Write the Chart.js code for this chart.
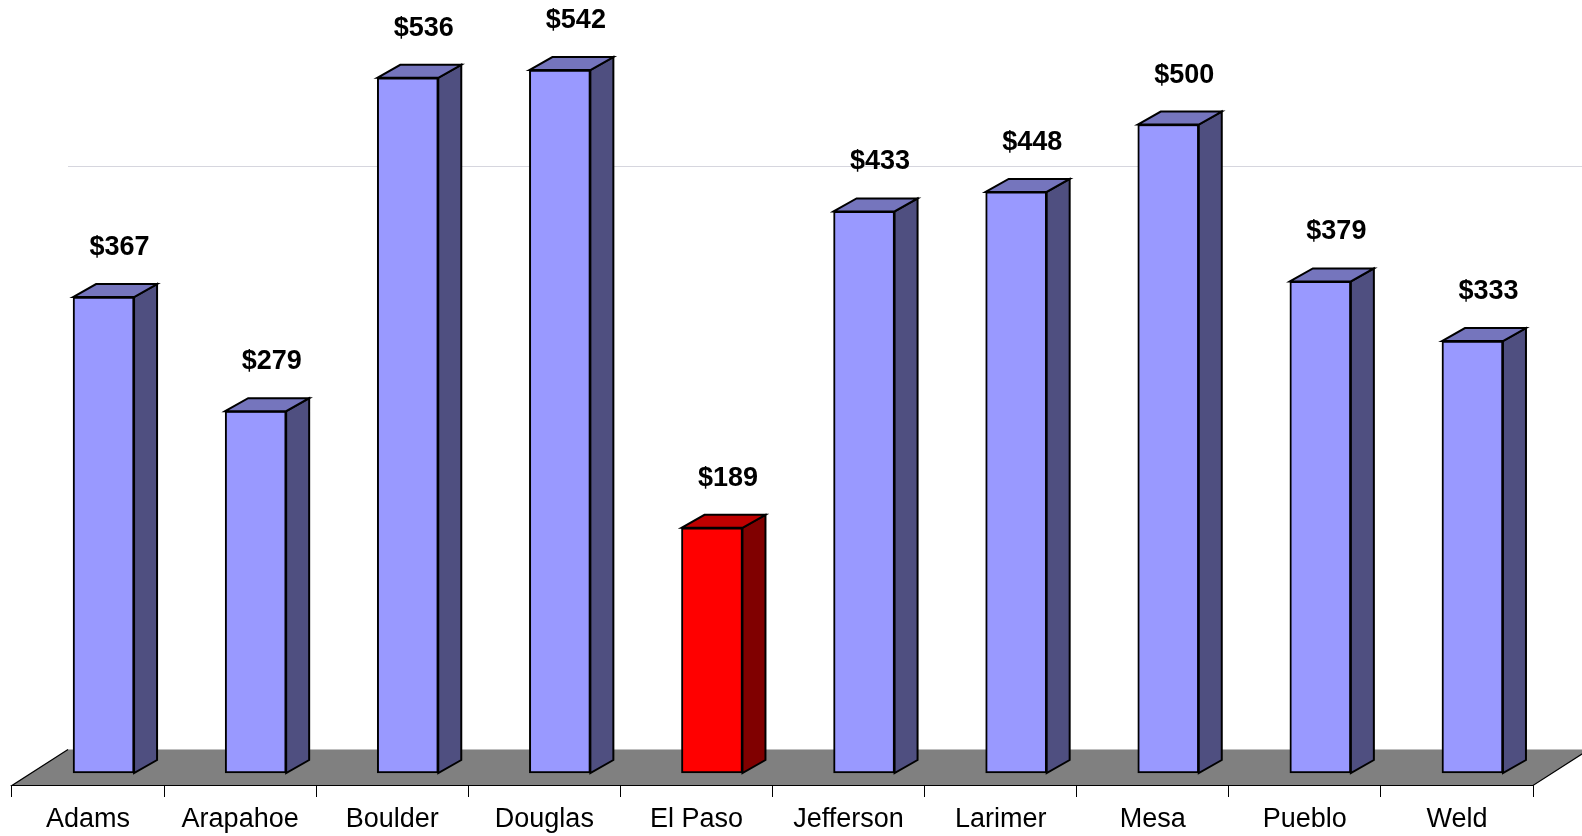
<!DOCTYPE html>
<html>
<head>
<meta charset="utf-8">
<script src="https://cdn.jsdelivr.net/npm/chart.js@4/dist/chart.umd.min.js"></script>
<style>
  html, body { margin: 0; padding: 0; background: #ffffff; }
  #wrap { width: 1582px; height: 836px; position: relative; }
</style>
</head>
<body>
<div id="wrap"><canvas id="c"></canvas></div>
<script>
// ---- data ----
const categories = ['Adams', 'Arapahoe', 'Boulder', 'Douglas', 'El Paso', 'Jefferson', 'Larimer', 'Mesa', 'Pueblo', 'Weld'];
const values = [367, 279, 536, 542, 189, 433, 448, 500, 379, 333];
const highlighted = ['El Paso'];
const gridValues = [450];

// ---- styling ----
const FONT = "'Liberation Sans', Arial, Helvetica, sans-serif";
const BLUE = { front: '#9999FF', top: '#7575BD', side: '#4F4F80' };
const RED = { front: '#FF0000', top: '#C00000', side: '#800000' };
const palette = categories.map(c => highlighted.includes(c) ? RED : BLUE);
const DEPTH_X = 23, DEPTH_Y = 13;       // bar depth projection
const FLOOR_X = 56, FLOOR_Y = 36;       // floor depth projection
const BAR_FRONT_Y = 12;                  // bar front plane above floor front edge
const SHIFT = 0.102;                     // bars shifted right into the floor depth

const floorPlugin = {
  id: 'floor3d',
  beforeDatasetsDraw(chart) {
    const ctx = chart.ctx, ca = chart.chartArea, ys = chart.scales.y;
    ctx.save();
    // back wall gridlines
    ctx.strokeStyle = '#D6D6DE';
    ctx.lineWidth = 1;
    gridValues.forEach(v => {
      const gy = Math.round(ys.getPixelForValue(v) - (FLOOR_Y - BAR_FRONT_Y)) + 1.5;
      ctx.beginPath();
      ctx.moveTo(ca.left + FLOOR_X, gy);
      ctx.lineTo(chart.width, gy);
      ctx.stroke();
    });
    // floor
    const fb = ca.bottom + 0.5;
    ctx.beginPath();
    ctx.moveTo(ca.left, fb);
    ctx.lineTo(ca.left + FLOOR_X, fb - FLOOR_Y);
    ctx.lineTo(ca.right + FLOOR_X, fb - FLOOR_Y);
    ctx.lineTo(ca.right, fb);
    ctx.closePath();
    ctx.fillStyle = '#808080';
    ctx.fill();
    ctx.strokeStyle = '#000000';
    ctx.lineWidth = 1.2;
    ctx.beginPath();
    ctx.moveTo(ca.left + FLOOR_X, fb - FLOOR_Y);
    ctx.lineTo(ca.left, fb);
    ctx.lineTo(ca.right, fb);
    ctx.lineTo(ca.right + FLOOR_X, fb - FLOOR_Y);
    ctx.stroke();
    ctx.restore();
  },
  afterDatasetsDraw(chart) {
    const ctx = chart.ctx;
    const meta = chart.getDatasetMeta(0);
    ctx.save();
    ctx.lineWidth = 2;
    ctx.lineJoin = 'miter';
    ctx.strokeStyle = '#000000';
    meta.data.forEach((bar, i) => {
      const p = bar.getProps(['x', 'y', 'base', 'width'], true);
      const x1 = p.x - p.width / 2, x2 = p.x + p.width / 2;
      const top = p.y, bot = p.base;
      const col = palette[i];
      // side face
      ctx.beginPath();
      ctx.moveTo(x2, top);
      ctx.lineTo(x2 + DEPTH_X, top - DEPTH_Y);
      ctx.lineTo(x2 + DEPTH_X, bot - DEPTH_Y);
      ctx.lineTo(x2, bot);
      ctx.closePath();
      ctx.fillStyle = col.side;
      ctx.fill();
      ctx.stroke();
      // top face
      ctx.beginPath();
      ctx.moveTo(x1, top);
      ctx.lineTo(x1 + DEPTH_X, top - DEPTH_Y);
      ctx.lineTo(x2 + DEPTH_X, top - DEPTH_Y);
      ctx.lineTo(x2, top);
      ctx.closePath();
      ctx.fillStyle = col.top;
      ctx.fill();
      ctx.stroke();
      // value label
      ctx.fillStyle = '#000000';
      ctx.font = 'bold 27px ' + FONT;
      ctx.textAlign = 'center';
      ctx.textBaseline = 'alphabetic';
      ctx.fillText('$' + values[i], p.x + 16, top - 42);
    });
    ctx.restore();
  }
};

new Chart(document.getElementById('c'), {
  type: 'bar',
  data: {
    labels: categories,
    datasets: [{
      data: values.map((v, i) => ({ x: i, y: v })),
      xAxisID: 'xb',
      yAxisID: 'y',
      backgroundColor: palette.map(p => p.front),
      borderColor: '#000000',
      borderWidth: 2,
      borderSkipped: false,
      barThickness: 61
    }]
  },
  options: {
    responsive: true,
    maintainAspectRatio: false,
    animation: false,
    layout: { padding: { left: 12, right: 49, top: 0, bottom: 0 } },
    plugins: { legend: { display: false }, tooltip: { enabled: false } },
    scales: {
      x: {
        type: 'category',
        position: 'bottom',
        offset: true,
        grid: { display: true, drawOnChartArea: false, drawTicks: true, tickLength: 12, color: '#000000', lineWidth: 1, offset: true },
        border: { display: true, color: '#000000', width: 1 },
        ticks: { color: '#000000', font: { family: FONT, size: 27 }, padding: 6, maxRotation: 0, autoSkip: false },
        afterFit: s => { s.height = 51; }
      },
      xb: {
        type: 'linear',
        display: false,
        offset: false,
        bounds: 'data',
        min: -0.5 - SHIFT,
        max: 9.5 - SHIFT
      },
      y: {
        type: 'linear',
        display: false,
        min: -9.25,
        max: 596
      }
    }
  },
  plugins: [floorPlugin]
});
</script>
</body>
</html>
